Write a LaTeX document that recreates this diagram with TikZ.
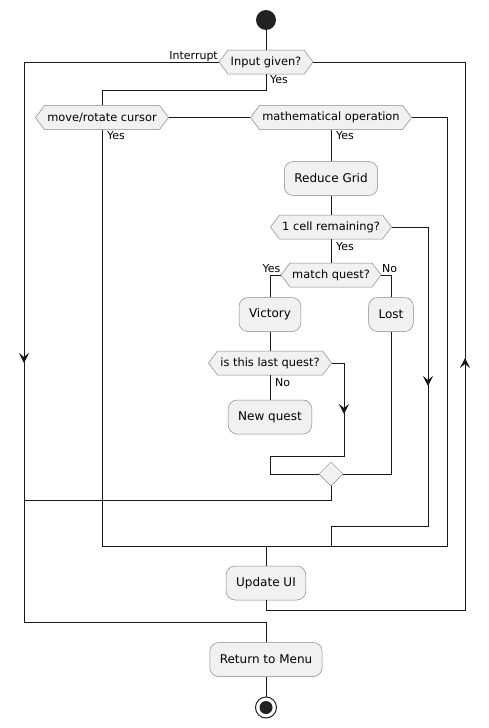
\documentclass[tikz,border=0pt]{standalone}
\usepackage{fontspec}
\setmainfont{DejaVu Sans}
\usetikzlibrary{shapes.geometric,arrows.meta,calc}
\definecolor{boxfill}{HTML}{F1F1F1}
\definecolor{boxline}{HTML}{888888}
\definecolor{wire}{HTML}{181818}
\definecolor{dot}{HTML}{222222}

\tikzset{
  act/.style={rectangle, rounded corners=9pt, draw=boxline, fill=boxfill,
    line width=0.5pt, minimum height=34pt, inner xsep=10pt, inner ysep=0pt,
    font=\fontsize{12}{14}\selectfont},
  hexshape/.style={draw=boxline, fill=boxfill, line width=0.5pt},
  hextext/.style={rectangle, inner sep=0pt, minimum height=24pt,
    font=\fontsize{11.4}{13}\selectfont},
  conn/.style={draw=wire, line width=1pt},
  tip/.style={draw=wire, line width=1pt,
    -{Stealth[length=10pt,width=10pt,inset=4pt]}},
  lbl/.style={font=\fontsize{11}{13}\selectfont, inner sep=0pt},
}

% decision hexagon: name, centre x, centre y, half width, text
\newcommand\hexnode[5]{%
  \path[hexshape] (#2-#4,#3) -- (#2-#4+9,#3-12) -- (#2+#4-9,#3-12)
    -- (#2+#4,#3) -- (#2+#4-9,#3+12) -- (#2-#4+9,#3+12) -- cycle;
  \node[hextext, minimum width=2*#4] (#1) at (#2,#3) {#5};
}

\begin{document}
\begin{tikzpicture}[x=1pt, y=-1pt]
\fill[white] (0,0) rectangle (489,728);
\useasboundingbox (0,0) rectangle (489,728);

% start and end
\node[circle, fill=dot, minimum size=20pt, inner sep=0pt] (start) at (266,20) {};
\node[circle, draw=dot, line width=1pt, fill=white, minimum size=21pt, inner sep=0pt] (stop) at (266,707.5) {};
\fill[dot] (stop.center) circle (6.5pt);

% decisions
\hexnode{input}{266}{62}{47}{Input given?}
\hexnode{move}{102}{117.5}{66.5}{move/rotate cursor}
\hexnode{math}{331}{117.5}{80.5}{mathematical operation}
\hexnode{cell}{331}{227}{60.5}{1 cell remaining?}
\hexnode{match}{331}{275}{50}{match quest?}
\hexnode{last}{270}{363}{61.5}{is this last quest?}
\node[diamond, draw=boxline, fill=boxfill, line width=0.5pt, inner sep=0pt,
  minimum width=24pt, minimum height=24pt] (merge) at (331,474) {};

% activities
\node[act] (reduce) at (331,178.5) {Reduce Grid};
\node[act] (victory) at (270,314.5) {Victory};
\node[act] (lost) at (391,314.5) {Lost};
\node[act] (newq) at (270,417) {New quest};
\node[act] (update) at (266,583) {Update UI};
\node[act] (ret) at (266,659.5) {Return to Menu};

% bend points
\coordinate (jin) at (266,90);
\coordinate (jall) at (266,546);
\coordinate (jout) at (266,622);

% connectors
\draw[conn] (start) -- (input.north);
\draw[conn] (input.west) -| (24,622) -- (jout) -- (ret.north);
\draw[conn] (update.south) |- (465,610) |- (input.east);
\draw[conn] (input.south) -- (jin) -| (move.north);
\draw[conn] (move.east) -- (math.west);
\draw[conn] (move.south) |- (447,546) |- (math.east);
\draw[conn] (jall) -- (update.north);
\draw[conn] (math.south) -- (reduce.north);
\draw[conn] (reduce.south) -- (cell.north);
\draw[conn] (cell.east) -| (428,526) -| (331,546);
\draw[conn] (cell.south) -- (match.north);
\draw[conn] (match.west) -| (victory.north);
\draw[conn] (match.east) -| (lost.north);
\draw[conn] (victory.south) -- (last.north);
\draw[conn] (last.south) -- (newq.north);
\draw[conn] (last.east) -| (344,456) -| (270,474) -- (merge.west);
\draw[conn] (lost.south) |- (merge.east);
\draw[conn] (merge.south) |- (24,500);
\draw[conn] (ret.south) -- (stop.north);

% arrow heads on the long runs
\draw[tip] (24,345) -- (24,363);
\draw[tip] (465,376) -- (465,358);
\draw[tip] (428,368) -- (428,386);
\draw[tip] (344,396) -- (344,414);

% branch labels
\node[lbl, anchor=base east] at (218,59) {Interrupt};
\node[lbl, anchor=base west] at (270,83) {Yes};
\node[lbl, anchor=base west] at (107,139) {Yes};
\node[lbl, anchor=base west] at (336,139) {Yes};
\node[lbl, anchor=base west] at (336,250) {Yes};
\node[lbl, anchor=base east] at (280.5,272) {Yes};
\node[lbl, anchor=base west] at (382,272) {No};
\node[lbl, anchor=base west] at (275,386) {No};
\end{tikzpicture}
\end{document}
